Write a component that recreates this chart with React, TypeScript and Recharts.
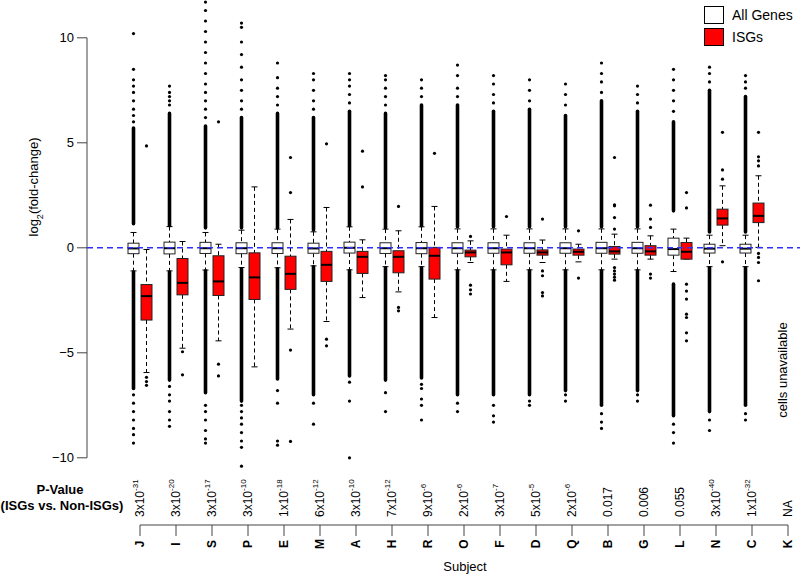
import React from 'react';
import { ComposedChart, Bar, XAxis, YAxis, ReferenceLine } from 'recharts';

const FONT = '"Liberation Sans", Arial, sans-serif';

const subjects = ['J', 'I', 'S', 'P', 'E', 'M', 'A', 'H', 'R', 'O', 'F', 'D', 'Q', 'B', 'G', 'L', 'N', 'C', 'K'];

// p-value labels: mantissa part and superscript exponent
const pBase = ['3x10', '3x10', '3x10', '3x10', '1x10', '6x10', '3x10', '7x10', '9x10', '2x10', '3x10', '5x10', '2x10', '0.017', '0.006', '0.055', '3x10', '1x10', 'NA'];
const pExp = ['-31', '-20', '-17', '-10', '-18', '-12', '-10', '-12', '-6', '-6', '-7', '-5', '-6', '', '', '', '-40', '-32', ''];

// All genes (white boxes)
const allQ1 = [-0.28, -0.29, -0.27, -0.28, -0.27, -0.26, -0.25, -0.27, -0.28, -0.26, -0.26, -0.26, -0.26, -0.26, -0.26, -0.35, -0.25, -0.25, null];
const allMed = [-0.03, -0.02, -0.02, -0.02, -0.02, -0.03, 0.0, -0.02, -0.02, -0.02, -0.02, -0.02, -0.02, -0.02, -0.02, -0.06, -0.04, -0.04, null];
const allQ3 = [0.22, 0.27, 0.26, 0.24, 0.24, 0.22, 0.27, 0.24, 0.25, 0.24, 0.24, 0.24, 0.24, 0.26, 0.26, 0.46, 0.17, 0.17, null];
const allLo = [-1.1, -1.1, -1.06, -0.94, -0.95, -0.86, -1.05, -0.9, -0.9, -1.05, -1.05, -1.05, -1.05, -1.05, -1.05, -1.13, -0.9, -0.9, null];
const allHi = [0.73, 1.01, 0.73, 0.84, 0.89, 0.76, 1.0, 0.89, 1.0, 0.9, 0.9, 0.9, 0.9, 0.9, 0.9, 0.89, 0.6, 0.6, null];
// dense runs of outliers (from, to) above and below the whiskers
const allDenseHiFrom = [1.15, 1.05, 0.95, 0.95, 0.95, 0.85, 1.05, 0.95, 1.05, 1.0, 1.0, 1.0, 1.0, 1.0, 1.0, 1.76, 0.75, 0.75, null];
const allDenseHiTo = [5.7, 6.4, 5.8, 6.2, 6.4, 6.2, 6.5, 6.4, 6.8, 6.8, 6.5, 6.6, 6.3, 7.0, 6.5, 6.0, 7.5, 7.2, null];
const allDenseLoFrom = [-1.15, -1.15, -1.1, -1.0, -1.0, -0.9, -1.1, -0.95, -0.95, -1.1, -1.1, -1.1, -1.1, -1.1, -1.1, -1.73, -0.95, -0.95, null];
const allDenseLoTo = [-6.7, -6.3, -6.9, -7.3, -6.25, -7.0, -6.1, -6.3, -6.2, -7.0, -7.0, -7.0, -6.8, -7.5, -6.8, -8.0, -7.8, -7.5, null];
const allSparse = [
  [6.0, 6.3, 6.6, 7.0, 7.4, 7.7, 8.0, 8.5, 10.2, -7.0, -7.4, -7.8, -8.2, -8.6, -8.9, -9.3],
  [6.8, 7.0, 7.2, 7.4, 7.7, -6.6, -7.0, -7.3, -7.8, -8.2, -8.5],
  [6.2, 6.6, 7.0, 7.4, 7.8, 8.3, 8.8, 9.3, 9.8, 10.3, 10.8, 11.3, 11.7, -7.5, -7.8, -8.2, -8.7, -9.1, -9.3],
  [6.6, 7.0, 7.5, 8.0, 8.6, 9.2, 9.8, 10.5, 10.7, -7.5, -7.8, -8.1, -8.4, -8.8, -9.2, -9.5, -10.4],
  [6.8, 7.2, 7.6, 8.1, 8.8, -6.8, -7.4, -9.2, -9.4],
  [6.6, 7.0, 7.5, 8.0, 8.3, -7.4, -8.4],
  [6.9, 7.3, 7.7, 8.0, 8.3, -6.4, -7.3, -10.0],
  [6.8, 7.2, 7.6, 8.0, 8.2, -6.9, -7.8],
  [7.2, 7.6, 8.0, -6.5, -6.7, -7.2, -7.5, -8.2],
  [7.2, 7.6, 8.2, 8.7, -7.4, -7.8],
  [6.9, 7.3, 7.8, 8.2, -7.5, -8.0, -8.3],
  [7.0, 7.5, 8.0, -7.3, -7.5],
  [6.8, 7.3, 7.8, -7.0, -7.3],
  [7.4, 7.9, 8.3, 8.8, -7.9, -8.3, -8.6],
  [6.9, 7.3, 7.7, -7.0, -7.3],
  [6.5, 7.0, 7.5, 8.0, 8.5, -8.4, -8.8, -9.3],
  [7.9, 8.3, 8.6, -8.2, -8.7],
  [7.6, 7.9, 8.2, -7.9, -8.2],
  [],
];

// ISGs (red boxes)
const isgQ1 = [-3.44, -2.24, -2.27, -2.46, -1.98, -1.6, -1.22, -1.19, -1.49, -0.43, -0.81, -0.35, -0.35, -0.3, -0.35, -0.54, 1.08, 1.2, null];
const isgMed = [-2.3, -1.67, -1.6, -1.41, -1.24, -0.81, -0.43, -0.43, -0.38, -0.22, -0.22, -0.22, -0.19, -0.17, -0.17, -0.19, 1.4, 1.52, null];
const isgQ3 = [-1.75, -0.51, -0.38, -0.24, -0.4, -0.17, -0.17, -0.14, 0.02, -0.11, -0.06, -0.1, -0.06, 0.06, 0.1, 0.25, 1.84, 2.13, null];
const isgLo = [-5.94, -4.78, -4.43, -5.67, -3.87, -3.51, -2.37, -2.1, -3.32, -0.7, -1.6, -0.7, -0.67, -0.54, -0.54, -0.54, 0.1, 0.02, null];
const isgHi = [-0.08, 0.3, 0.17, 2.9, 1.35, 1.92, 0.38, 0.81, 1.97, 0.33, 0.6, 0.37, 0.17, 0.65, 0.57, 0.46, 2.95, 3.43, null];
const isgOut = [
  [4.85, -6.17, -6.37, -6.55],
  [-4.95, -6.05],
  [6.0, -5.54, -6.1],
  [],
  [2.63, 4.3, -4.87, -9.22],
  [4.95, -4.35, -4.67],
  [4.6, 2.9],
  [1.97, -2.84, -3.0],
  [4.5],
  [0.54, -1.78, -2.0, -2.2],
  [1.49],
  [1.37, -1.1, -1.33, -2.13, -2.29],
  [0.81, -1.44],
  [0.89, 1.44, 2.0, 2.05, 4.3, -0.94, -1.1, -1.25, -1.4, -1.54],
  [0.97, 1.37, 2.03, -1.25, -1.44],
  [1.9, 2.63, -1.73, -2.06, -2.44, -3.16, -3.32, -4.05, -4.43],
  [3.27, 3.71, 5.5, -0.67],
  [3.9, 4.14, 4.33, 5.5, -0.27, -0.46, -0.7, -1.57],
  [],
];

const rows = subjects.map((subject, i) => ({
  subject,
  all:
    allQ1[i] == null
      ? null
      : {
          q1: allQ1[i], med: allMed[i], q3: allQ3[i], lo: allLo[i], hi: allHi[i],
          dense: [[allDenseHiFrom[i], allDenseHiTo[i]], [allDenseLoFrom[i], allDenseLoTo[i]]],
          out: allSparse[i],
        },
  isg:
    isgQ1[i] == null
      ? null
      : { q1: isgQ1[i], med: isgMed[i], q3: isgQ3[i], lo: isgLo[i], hi: isgHi[i], dense: [], out: isgOut[i] },
}));

const makeBoxShape = (group: 'all' | 'isg', fill: string) => (props: any) => {
  const { x, y, width, height, payload } = props;
  const s = payload && payload[group];
  if (!s || !isFinite(y) || !isFinite(height)) return <g />;
  const top = Math.min(y, y + height);
  const k = Math.abs(height) / (s.q3 - s.q1);
  const Y = (v: number) => top + (s.q3 - v) * k;
  const cx = x + width / 2;
  const cap = 3;
  return (
    <g>
      {s.dense.map((d: number[], j: number) => (
        <line key={`d${j}`} x1={cx} x2={cx} y1={Y(d[0])} y2={Y(d[1])} stroke="#000" strokeWidth={3.6} strokeLinecap="round" />
      ))}
      {s.out.map((v: number, j: number) => (
        <circle key={`o${j}`} cx={cx} cy={Y(v)} r={1.6} fill="#000" />
      ))}
      <line x1={cx} x2={cx} y1={Y(s.hi)} y2={Y(s.q3)} stroke="#000" strokeDasharray="4 3" />
      <line x1={cx} x2={cx} y1={Y(s.q1)} y2={Y(s.lo)} stroke="#000" strokeDasharray="4 3" />
      <line x1={cx - cap} x2={cx + cap} y1={Y(s.hi)} y2={Y(s.hi)} stroke="#000" />
      <line x1={cx - cap} x2={cx + cap} y1={Y(s.lo)} y2={Y(s.lo)} stroke="#000" />
      <rect x={x} y={top} width={width} height={Math.abs(height)} fill={fill} stroke="#222" strokeWidth={1} />
      <line x1={x} x2={x + width} y1={Y(s.med)} y2={Y(s.med)} stroke="#000" strokeWidth={2} />
    </g>
  );
};

const SubjectTick = (props: any) => {
  const { x, y, payload } = props;
  const i = subjects.indexOf(payload.value);
  return (
    <g fontFamily={FONT}>
      <line x1={x} x2={x} y1={y} y2={y + 11} stroke="#444" />
      <text transform={`translate(${x},${y + 19}) rotate(-90)`} textAnchor="middle" dominantBaseline="central" fontWeight="bold" fontSize={12} fill="#000">
        {payload.value}
      </text>
      <text transform={`translate(${x},${y - 8}) rotate(-90)`} textAnchor="start" dominantBaseline="central" fontSize={12} fill="#000">
        {pBase[i]}
        {pExp[i] && (
          <tspan baselineShift="super" fontSize={8}>
            {pExp[i]}
          </tspan>
        )}
      </text>
      {payload.value === 'K' && (
        <text transform={`translate(${x - 6},${y - 155}) rotate(-90)`} textAnchor="middle" dominantBaseline="central" fontSize={13} fill="#000">
          cells unavailable
        </text>
      )}
    </g>
  );
};

const XLabel = (props: any) => {
  const vb = props.viewBox || { x: 87, y: 525 };
  return (
    <g fontFamily={FONT} fill="#000">
      <text x={465} y={vb.y + 46} textAnchor="middle" fontSize={13}>
        Subject
      </text>
      <text x={60} y={vb.y - 31} textAnchor="middle" fontSize={13} fontWeight="bold">
        P-Value
      </text>
      <text x={62} y={vb.y - 15} textAnchor="middle" fontSize={13} fontWeight="bold">
        (ISGs vs. Non-ISGs)
      </text>
    </g>
  );
};

const YLabel = () => (
  <text transform="translate(38,187) rotate(-90)" textAnchor="middle" fontFamily={FONT} fontSize={13} fill="#000">
    log
    <tspan baselineShift="sub" fontSize={9}>2</tspan>
    (fold-change)
  </text>
);

export default function App() {
  return (
    <div style={{ position: 'absolute', left: 0, top: 0, width: 800, height: 577, overflow: 'hidden', background: '#fff', fontFamily: FONT }}>
      <ComposedChart width={810} height={577} data={rows} margin={{ top: 0, right: 4, bottom: 0, left: 0 }} barSize={11} barGap={2}>
        <XAxis
          dataKey="subject"
          type="category"
          interval={0}
          padding={{ left: 35, right: 0 }}
          axisLine={false}
          tickLine={false}
          tickSize={0}
          tickMargin={0}
          height={52}
          tick={<SubjectTick />}
          label={XLabel}
        />
        <XAxis xAxisId="frame" type="number" domain={[0, 1]} hide />
        <YAxis
          type="number"
          domain={[-13.2, 11.8]}
          ticks={[-10, -5, 0, 5, 10]}
          width={87}
          axisLine={false}
          tickLine={{ stroke: '#444' }}
          tickSize={10}
          tickMargin={3}
          tick={{ fontSize: 13, fill: '#000', fontFamily: FONT }}
          tickFormatter={(v: number) => (v < 0 ? `\u2212${-v}` : `${v}`)}
          label={YLabel}
        />
        <Bar dataKey={(d: any) => (d.all ? [d.all.q1, d.all.q3] : null)} shape={makeBoxShape('all', '#ffffff')} isAnimationActive={false} />
        <Bar dataKey={(d: any) => (d.isg ? [d.isg.q1, d.isg.q3] : null)} shape={makeBoxShape('isg', '#ff0000')} isAnimationActive={false} />
        <ReferenceLine xAxisId="frame" segment={[{ x: 0, y: -10 }, { x: 0, y: 10 }]} stroke="#444" />
        <ReferenceLine segment={[{ x: 'J', y: -13.2 }, { x: 'K', y: -13.2 }]} stroke="#444" ifOverflow="visible" />
        <ReferenceLine y={0} stroke="#3030ff" strokeWidth={1.5} strokeDasharray="6 4" />
      </ComposedChart>
      <div style={{ position: 'absolute', left: 704, top: 6, fontSize: 14, color: '#000' }}>
        <div style={{ display: 'flex', alignItems: 'center', height: 18, marginBottom: 4 }}>
          <div style={{ width: 18, height: 16, border: '1.5px solid #000', background: '#fff', marginRight: 8 }} />
          All Genes
        </div>
        <div style={{ display: 'flex', alignItems: 'center', height: 18 }}>
          <div style={{ width: 18, height: 16, border: '1.5px solid #000', background: '#ff0000', marginRight: 8 }} />
          ISGs
        </div>
      </div>
    </div>
  );
}
